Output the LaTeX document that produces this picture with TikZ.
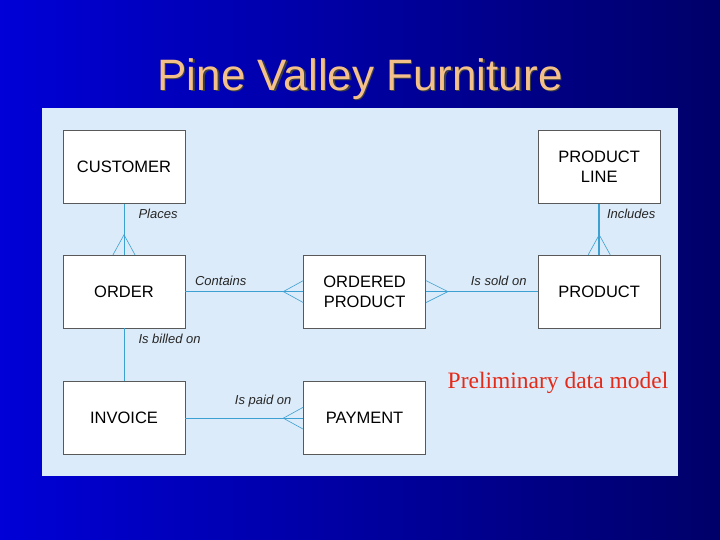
\documentclass[tikz,border=0pt]{standalone}
\usepackage{fontspec}
\setmainfont{Liberation Sans}
\newfontfamily\notefont{Liberation Serif}
\usetikzlibrary{positioning, calc}

\definecolor{panelbg}{RGB}{220,235,249}
\definecolor{relline}{RGB}{60,160,210}
\definecolor{titlepeach}{RGB}{244,192,138}
\definecolor{notered}{RGB}{228,42,25}
\definecolor{slideleft}{RGB}{0,0,215}
\definecolor{slideright}{RGB}{0,0,105}

\begin{document}
\begin{tikzpicture}[
    x=1pt, y=1pt,
    node distance=51pt and 118pt,
    entity/.style={rectangle, draw=black!65, fill=white, line width=0.6pt, minimum width=122pt, minimum height=73pt, align=center, font=\fontsize{16.5}{20}\selectfont},
    rel/.style={draw=relline, line width=1pt},
    relthick/.style={draw=relline, line width=1.6pt},
    foot/.style={draw=relline, line width=0.6pt},
    lbl/.style={font=\fontsize{13}{15}\selectfont\itshape, text=black!85, inner sep=1pt},
  ]

  % Slide background
  \shade[left color=slideleft, right color=slideright] (0,0) rectangle (720,540);
  \useasboundingbox (0,0) rectangle (720,540);
  \fill[panelbg] (42,64) rectangle (678,432);

  % Title
  \node[font=\fontsize{44}{48}\selectfont, text=black!75] at (361.5,459.5) {Pine Valley Furniture};
  \node[font=\fontsize{44}{48}\selectfont, text=titlepeach] (title) at (360,461) {Pine Valley Furniture};

  % Entities
  \node[entity] (customer) at (124,373) {CUSTOMER};
  \node[entity, below=of customer] (order) {ORDER};
  \node[entity, below=53pt of order] (invoice) {INVOICE};
  \node[entity, right=of order] (ordprod) {ORDERED\\PRODUCT};
  \node[entity, right=112pt of ordprod] (product) {PRODUCT};
  \node[entity, above=of product] (prodline) {PRODUCT\\LINE};
  \node[entity, right=of invoice] (payment) {PAYMENT};

  % Relationships
  \draw[rel] (customer.south) -- node[lbl, pos=0.2, right=13pt] {Places} (order.north);
  \draw[relthick] (prodline.south) -- node[lbl, pos=0.2, right=6pt] {Includes} (product.north);
  \draw[relthick] (order.east) -- node[lbl, pos=0.3, above=4pt] {Contains} (ordprod.west);
  \draw[relthick] (ordprod.east) -- node[lbl, pos=0.65, above=4pt] {Is sold on} (product.west);
  \draw[rel] (order.south) -- node[lbl, pos=0.2, right=13pt] {Is billed on} (invoice.north);
  \draw[rel] (invoice.east) -- node[lbl, pos=0.66, above=9pt] {Is paid on} (payment.west);

  % Crow's feet
  \draw[foot] ($(order.north)+(-11,0)$) -- ($(order.north)+(0,20)$) -- ($(order.north)+(11,0)$);
  \draw[foot] ($(product.north)+(-11,0)$) -- ($(product.north)+(0,20)$) -- ($(product.north)+(11,0)$);
  \draw[foot] ($(ordprod.west)+(0,11)$) -- ($(ordprod.west)+(-20,0)$) -- ($(ordprod.west)+(0,-11)$);
  \draw[foot] ($(ordprod.east)+(0,11)$) -- ($(ordprod.east)+(22,0)$) -- ($(ordprod.east)+(0,-11)$);
  \draw[foot] ($(payment.west)+(0,11)$) -- ($(payment.west)+(-20,0)$) -- ($(payment.west)+(0,-11)$);

  % Note
  \node[font=\notefont\fontsize{23.5}{26}\selectfont, text=notered] (note) at (558,157) {Preliminary data model};

\end{tikzpicture}
\end{document}
